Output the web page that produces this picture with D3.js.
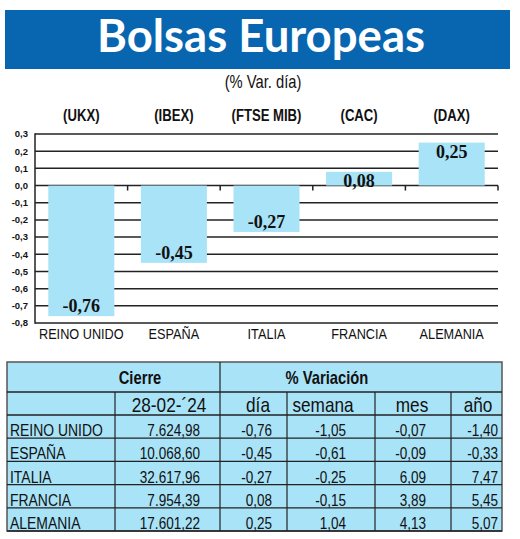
<!DOCTYPE html>
<html><head><meta charset="utf-8">
<script src="https://cdn.jsdelivr.net/npm/d3@7"></script>
<style>body{margin:0;background:#fff}svg{display:block}</style>
</head><body>
<svg id="c" width="520" height="539"></svg>
<script>
// ---- data ----
const indices = ["(UKX)", "(IBEX)", "(FTSE MIB)", "(CAC)", "(DAX)"];
const countries = ["REINO UNIDO", "ESPAÑA", "ITALIA", "FRANCIA", "ALEMANIA"];
const dayChange = [-0.76, -0.45, -0.27, 0.08, 0.25];
const yTicks = [0.3, 0.2, 0.1, 0.0, -0.1, -0.2, -0.3, -0.4, -0.5, -0.6, -0.7, -0.8];
const closeDate = "28-02-´24";
const cierre = ["7.624,98", "10.068,60", "32.617,96", "7.954,39", "17.601,22"];
const dia = ["-0,76", "-0,45", "-0,27", "0,08", "0,25"];
const semana = ["-1,05", "-0,61", "-0,25", "-0,15", "1,04"];
const mes = ["-0,07", "-0,09", "6,09", "3,89", "4,13"];
const ano = ["-1,40", "-0,33", "7,47", "5,45", "5,07"];
const varHeaders = ["día", "semana", "mes", "año"];

const svg = d3.select("#c");
const blue = "#0866b0", barCol = "#a8e3f7", ink = "#222";
const sans = "'Liberation Sans', Arial, sans-serif";
const SX = 0.82; // horizontal condensing

function ctext(parent, x, y, txt, size, anchor, weight) {
  return parent.append("text")
    .attr("transform", `translate(${x},${y}) scale(${SX},1)`)
    .attr("text-anchor", anchor || "start")
    .attr("font-family", sans).attr("font-size", size)
    .attr("font-weight", weight || 400).attr("fill", "#111").text(txt);
}

// ---- title ----
svg.append("rect").attr("x", 5).attr("y", 10).attr("width", 505).attr("height", 59).attr("fill", blue);
svg.append("text").attr("x", 261).attr("y", 52).attr("text-anchor", "middle")
  .attr("font-family", "Lato, 'Open Sans', sans-serif").attr("font-weight", 700)
  .attr("font-size", 45.5).attr("fill", "#fff").text("Bolsas Europeas");
ctext(svg, 263, 88, "(% Var. día)", 18, "middle");

// ---- chart ----
const x = d3.scaleBand().domain(countries).range([35, 498]).paddingInner(0.287).paddingOuter(0.1435);
const y = d3.scaleLinear().domain([-0.8, 0.3]).range([323, 134]);

const g = svg.append("g");
g.selectAll("line.grid").data(yTicks).join("line")
  .attr("x1", 35).attr("x2", 498).attr("y1", d => y(d)).attr("y2", d => y(d))
  .attr("stroke", ink).attr("stroke-width", 1.5);
const step = x.step();
g.selectAll("line.tk").data(countries).join("line")
  .attr("x1", d => x(d) - x.paddingOuter() * step + step).attr("x2", d => x(d) - x.paddingOuter() * step + step)
  .attr("y1", y(0)).attr("y2", y(0) + 5).attr("stroke", ink).attr("stroke-width", 1.5);
g.append("line").attr("x1", 35).attr("x2", 35).attr("y1", y(0.3) - 0.75).attr("y2", y(-0.8) + 0.75)
  .attr("stroke", ink).attr("stroke-width", 1.5);

g.selectAll("rect.bar").data(countries).join("rect")
  .attr("x", d => x(d)).attr("width", x.bandwidth())
  .attr("y", (d, i) => y(Math.max(0, dayChange[i])))
  .attr("height", (d, i) => Math.abs(y(dayChange[i]) - y(0)))
  .attr("fill", barCol);

g.selectAll("text.val").data(countries).join("text")
  .attr("x", d => x(d) + x.bandwidth() / 2)
  .attr("y", (d, i) => dayChange[i] < 0 ? y(dayChange[i]) - 4 : y(dayChange[i]) + 15)
  .attr("text-anchor", "middle").attr("font-family", "'Liberation Serif', 'Times New Roman', serif")
  .attr("font-weight", 700).attr("font-size", 18).attr("fill", "#111")
  .text((d, i) => d3.format(".2f")(dayChange[i]).replace(".", ",").replace("−", "-"));

g.selectAll("text.ytk").data(yTicks).join("text")
  .attr("x", 28).attr("y", d => y(d)).attr("dy", "0.35em").attr("text-anchor", "end")
  .attr("font-family", sans).attr("font-weight", 700)
  .attr("font-size", 9.5).attr("fill", "#111")
  .text(d => d3.format(".1f")(d).replace(".", ",").replace("−", "-"));

countries.forEach((c, i) => {
  ctext(g, x(c) + x.bandwidth() / 2, 121, indices[i], 16, "middle", 700);
  ctext(g, x(c) + x.bandwidth() / 2, 339, c, 15.5, "middle");
});

// ---- table ----
const t = svg.append("g");
const tx0 = 7, tx1 = 502, ty0 = 362, ty1 = 392, ty2 = 415, rowH = 23.2;
t.append("rect").attr("x", tx0).attr("y", ty0).attr("width", tx1 - tx0).attr("height", ty2 + rowH * 5 - ty0)
  .attr("fill", barCol).attr("stroke", "#555").attr("stroke-width", 1.5);
const rowLines = [ty1, ty2].concat(countries.map((d, i) => ty2 + rowH * (i + 1)));
t.selectAll("line.h").data(rowLines).join("line")
  .attr("x1", tx0).attr("x2", tx1).attr("y1", d => d).attr("y2", d => d)
  .attr("stroke", ink).attr("stroke-width", 1.3);
const vLines = [[115, ty1], [220, ty0], [287, ty1], [375, ty1], [451, ty1]];
t.selectAll("line.v").data(vLines).join("line")
  .attr("x1", d => d[0]).attr("x2", d => d[0]).attr("y1", d => d[1]).attr("y2", ty2 + rowH * 5)
  .attr("stroke", ink).attr("stroke-width", 1.2);

ctext(t, 140, 384, "Cierre", 18, "middle", 700);
ctext(t, 327, 384, "% Variación", 18, "middle", 700);

const hdrX = [258, 323, 412, 478];
ctext(t, 169, 412, closeDate, 21, "middle");
varHeaders.forEach((h, i) => ctext(t, hdrX[i], 412, h, 21, "middle"));

const cols = [[cierre, 200], [dia, 272], [semana, 346], [mes, 426], [ano, 498]];
countries.forEach((c, i) => {
  const by = ty2 + rowH * (i + 1) - 2;
  ctext(t, 10, by, c, 17);
  cols.forEach(([arr, cx]) => ctext(t, cx, by, arr[i], 16.5, "end"));
});
</script>
</body></html>
